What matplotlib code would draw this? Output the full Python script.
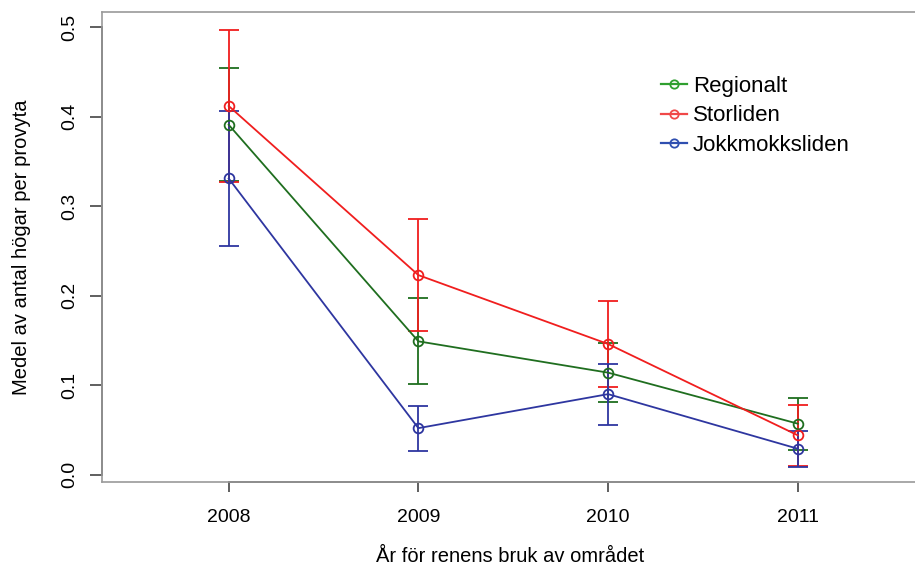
import matplotlib.pyplot as plt
from matplotlib.lines import Line2D

plt.rcParams['font.family'] = ['Liberation Sans', 'DejaVu Sans']

# data
years = [2008, 2009, 2010, 2011]
series_names = ['Regionalt', 'Storliden', 'Jokkmokksliden']

regionalt = [0.391, 0.149, 0.114, 0.057]
regionalt_err = [0.063, 0.048, 0.033, 0.029]

storliden = [0.412, 0.223, 0.146, 0.044]
storliden_err = [0.085, 0.063, 0.048, 0.034]

jokkmokk = [0.331, 0.052, 0.090, 0.029]
jokkmokk_err = [0.075, 0.025, 0.034, 0.020]

line_colors = ['#1f6e1f', '#f01e1e', '#2e36a0']
legend_colors = ['#2f9f2f', '#f04848', '#2f4fb0']

fig = plt.figure(figsize=(9.15, 5.76), dpi=100)
ax = fig.add_axes([0.111, 0.1627, 0.8998, 0.8165])

values = [regionalt, storliden, jokkmokk]
errors = [regionalt_err, storliden_err, jokkmokk_err]
for vals, errs, col in zip(values, errors, line_colors):
    ax.errorbar(years, vals, yerr=errs, color=col, lw=1.3, elinewidth=1.3,
                capsize=7.5, capthick=1.3, marker='o', ms=7,
                mfc='none', mec=col, mew=1.3)

ax.set_xlim(2007.33, 2011.67)
ax.set_ylim(-0.0085, 0.517)
ax.set_xticks(years)
ax.set_yticks([0.0, 0.1, 0.2, 0.3, 0.4, 0.5])
ax.set_yticklabels(['0.0', '0.1', '0.2', '0.3', '0.4', '0.5'],
                   rotation=90, va='center')
ax.tick_params(axis='x', labelsize=14, length=7, width=1.2,
               color='#444444', pad=12)
ax.tick_params(axis='y', labelsize=14, length=8.5, width=1.2,
               color='#444444', pad=8)

for sp in ax.spines.values():
    sp.set_color('#9a9a9a')
    sp.set_linewidth(1.2)

# darker R-style axis lines over the box
ax.plot([years[0], years[-1]], [0, 0], color='#444444', lw=1.3,
        transform=ax.get_xaxis_transform(), clip_on=False)
ax.plot([0, 0], [0.0, 0.5], color='#444444', lw=1.3,
        transform=ax.get_yaxis_transform(), clip_on=False)

fig.text(0.557, 0.017, 'År för renens bruk av området', fontsize=14.5,
         ha='center', va='bottom')
fig.text(0.013, 0.57, 'Medel av antal högar per provyta', fontsize=14.5,
         rotation=90, ha='left', va='center')

handles = [Line2D([], [], color=c, lw=1.6, marker='o', ms=6, mfc='none',
                  mec=c, mew=1.3) for c in legend_colors]
fig.legend(handles, series_names, loc='upper left',
           bbox_to_anchor=(0.722, 0.868), frameon=False, fontsize=16,
           handlelength=1.2, handletextpad=0.25, labelspacing=0.38,
           borderpad=0, borderaxespad=0)

fig.savefig('out.png', dpi=100)
